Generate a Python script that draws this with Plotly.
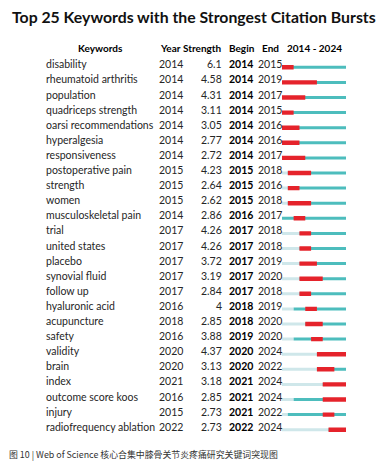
import plotly.graph_objects as go

keywords = ["disability", "rheumatoid arthritis", "population", "quadriceps strength",
            "oarsi recommendations", "hyperalgesia", "responsiveness", "postoperative pain",
            "strength", "women", "musculoskeletal pain", "trial", "united states", "placebo",
            "synovial fluid", "follow up", "hyaluronic acid", "acupuncture", "safety",
            "validity", "brain", "index", "outcome score koos", "injury", "radiofrequency ablation"]
years = [2014, 2014, 2014, 2014, 2014, 2014, 2014, 2015, 2015, 2015, 2014, 2017, 2017, 2017,
         2017, 2017, 2016, 2018, 2016, 2020, 2020, 2021, 2016, 2015, 2022]
strengths = [6.1, 4.58, 4.31, 3.11, 3.05, 2.77, 2.72, 4.23, 2.64, 2.62, 2.86, 4.26, 4.26, 3.72,
             3.19, 2.84, 4, 2.85, 3.88, 4.37, 3.13, 3.18, 2.85, 2.73, 2.73]
begins = [2014, 2014, 2014, 2014, 2014, 2014, 2014, 2015, 2015, 2015, 2016, 2017, 2017, 2017,
          2017, 2017, 2018, 2018, 2019, 2020, 2020, 2021, 2021, 2021, 2022]
ends = [2015, 2019, 2017, 2015, 2016, 2016, 2017, 2018, 2016, 2018, 2017, 2018, 2018, 2019,
        2020, 2018, 2019, 2020, 2020, 2024, 2022, 2024, 2024, 2022, 2024]
start_year, end_year = 2014, 2024
headers = ["Keywords", "Year", "Strength", "Begin", "End", "2014 - 2024"]
title = "Top 25 Keywords with the Strongest Citation Bursts"
caption = "图 10 | Web of Science 核心合集中膝骨关节炎疼痛研究关键词突现图"

# page body has an 8px default margin; lay out in window pixels
OFF = 8
W, H = 388 - OFF, 476 - OFF
FONT = "Lato"
TXT = "#262626"
LIGHT = "#CFE7EA"
TEAL = "#4DBDBD"
RED = "#E5232B"

def px(x):
    return (x - OFF) / W
def py(y):
    return 1 - (y - OFF) / H

rows = list(range(len(keywords)))
fig = go.Figure()
fig.add_trace(go.Bar(y=rows, base=[start_year] * len(rows), x=[y - start_year for y in years],
                     orientation="h", marker=dict(color=LIGHT, line=dict(width=0)), width=0.2,
                     hoverinfo="skip"))
fig.add_trace(go.Bar(y=rows, base=years, x=[end_year + 1 - y for y in years],
                     orientation="h", marker=dict(color=TEAL, line=dict(width=0)), width=0.2,
                     hoverinfo="skip"))
fig.add_trace(go.Bar(y=rows, base=begins, x=[e + 1 - b for b, e in zip(begins, ends)],
                     orientation="h", marker=dict(color=RED, line=dict(width=0)), width=0.29,
                     hoverinfo="skip"))

ann = []
FS = 10.5
for i in rows:
    common = dict(yref="y", y=i, xref="paper", yshift=3, showarrow=False,
                  font=dict(family=FONT, size=FS, color=TXT))
    ann.append(dict(text=keywords[i], x=px(44), xanchor="left", **common))
    ann.append(dict(text=str(years[i]), x=px(157), xanchor="left", **common))
    ann.append(dict(text=f"{strengths[i]:g}", x=px(223.5), xanchor="right", **common))
    c2 = dict(common)
    c2["font"] = dict(family=FONT, size=FS, color="#000000", weight="bold")
    ann.append(dict(text=str(begins[i]), x=px(227), xanchor="left", **c2))
    ann.append(dict(text=str(ends[i]), x=px(255.5), xanchor="left", **common))

hdr_x = [(100, "center"), (158, "left"), (223.5, "right"), (227, "left"), (260, "left"),
         (314, "center")]
for (x, anc), h in zip(hdr_x, headers):
    ann.append(dict(text=h, x=px(x), xanchor=anc, xref="paper", yref="paper", y=py(48.3),
                    yanchor="middle", showarrow=False,
                    font=dict(family=FONT, size=10, color="#000000", weight="bold")))

ann.append(dict(text=title, x=px(194), xanchor="center", xref="paper", yref="paper",
                y=py(16.7), yanchor="middle", showarrow=False,
                font=dict(family=FONT, size=15.8, color="#111111", weight="bold")))
ann.append(dict(text=caption, x=px(7), xanchor="left", xref="paper", yref="paper",
                y=py(454), yanchor="middle", showarrow=False,
                font=dict(family="Noto Sans CJK SC", size=8.9, color="#333333")))

fig.update_layout(
    width=W, height=H, margin=dict(l=0, r=0, t=0, b=0),
    paper_bgcolor="white", plot_bgcolor="white", showlegend=False, barmode="overlay",
    xaxis=dict(domain=[px(282), px(346)], range=[start_year, end_year + 1], visible=False,
               fixedrange=True),
    yaxis=dict(domain=[py(437.25), py(59.75)], range=[len(rows) - 0.5, -0.5], visible=False,
               fixedrange=True),
    annotations=ann,
)
fig.write_html("out.html")
